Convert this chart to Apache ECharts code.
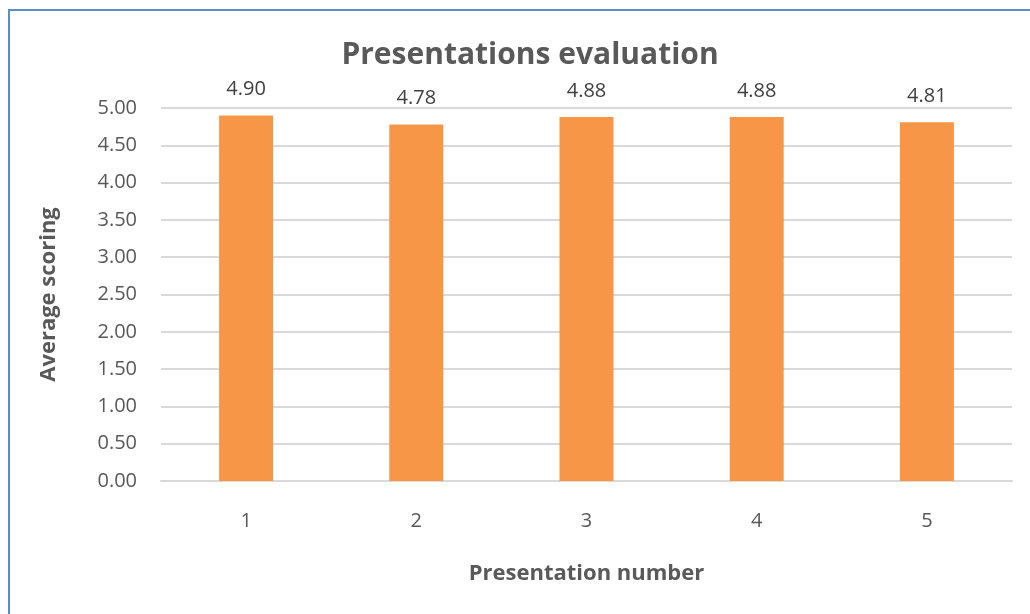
<!DOCTYPE html>
<html><head><meta charset="utf-8">
<script src="https://cdn.jsdelivr.net/npm/echarts@6/dist/echarts.min.js"></script>
<style>html,body{margin:0;padding:0;background:#fff;}#c{width:1030px;height:614px;}</style>
</head><body><div id="c"></div>
<script>
const categories = ['1','2','3','4','5'];
const values = [4.90, 4.78, 4.88, 4.88, 4.81];
const yTicks = [0,0.5,1,1.5,2,2.5,3,3.5,4,4.5,5];
const FONT = '"Open Sans", sans-serif';
const chart = echarts.init(document.getElementById('c'));
chart.setOption({
  backgroundColor: '#fff',
  animation: false,
  graphic: [{type:'rect', shape:{x:9, y:10, width:1040, height:640}, style:{fill:'none', stroke:'#5b8bc9', lineWidth:2}, z:-1}],
  title: {text:'Presentations evaluation', left:525, top:35, textAlign:'center',
    textStyle:{fontFamily:FONT, fontSize:30, fontWeight:'bold', color:'#595959'}},
  grid: {left:161, right:18, top:108, bottom:133, containLabel:false},
  xAxis: {type:'category', data:categories,
    name:'Presentation number', nameLocation:'middle', nameGap:82,
    nameTextStyle:{fontFamily:FONT, fontSize:22, fontWeight:'bold', color:'#595959'},
    axisLine:{show:true, lineStyle:{color:'#d9d9d9', width:2}}, axisTick:{show:false},
    axisLabel:{fontFamily:FONT, fontSize:20, color:'#595959', margin:30}},
  yAxis: {type:'value', min:0, max:5, interval:0.5,
    name:'Average scoring', nameLocation:'middle', nameGap:101,
    nameTextStyle:{fontFamily:FONT, fontSize:22, fontWeight:'bold', color:'#595959'},
    axisLine:{show:false}, axisTick:{show:false},
    splitLine:{lineStyle:{color:'#d9d9d9', width:2}},
    axisLabel:{fontFamily:FONT, fontSize:20, color:'#595959', margin:24,
      formatter: v => v.toFixed(2)}},
  series: [{type:'bar', data:values, barWidth:54, itemStyle:{color:'#f79646'},
    label:{show:true, position:'top', distance:16, fontFamily:FONT, fontSize:20, color:'#404040',
      formatter: p => p.value.toFixed(2)}}]
});
</script></body></html>
